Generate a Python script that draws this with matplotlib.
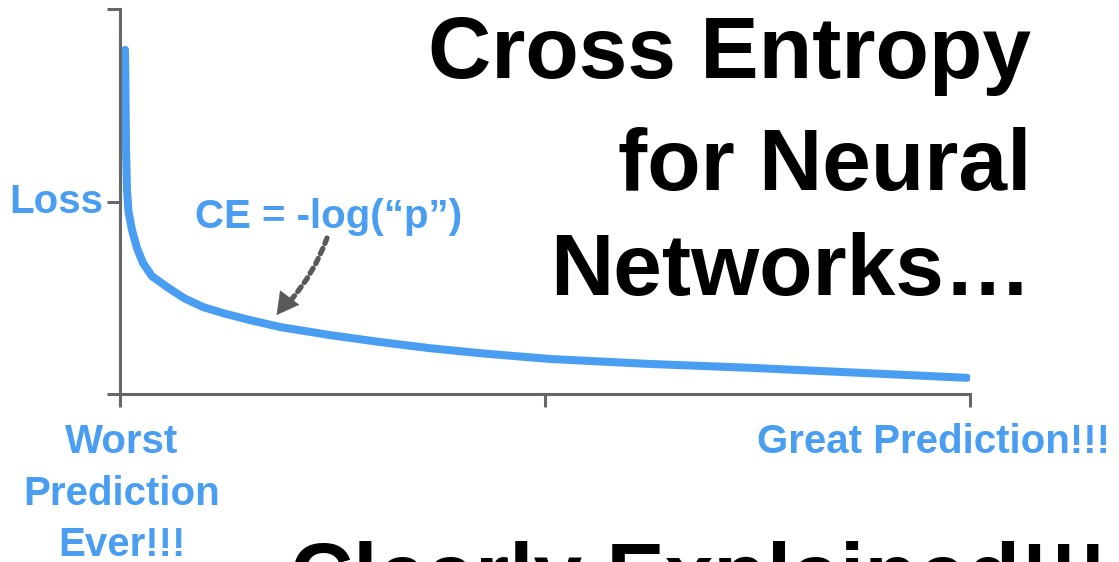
import matplotlib.pyplot as plt

# curve (x: 0 = worst prediction, 1 = great prediction)
loss_x = [0.0059, 0.0065, 0.0071, 0.0082, 0.0100, 0.0141, 0.0200, 0.0271,
          0.0376, 0.0553, 0.0753, 0.0976, 0.1212, 0.1529, 0.1882, 0.2471,
          0.3059, 0.3647, 0.4235, 0.5059, 0.6235, 0.7412, 0.8706, 0.9965]
loss_y = [0.894, 0.764, 0.634, 0.530, 0.473, 0.426, 0.379, 0.340,
          0.306, 0.278, 0.249, 0.226, 0.210, 0.192, 0.174, 0.153,
          0.135, 0.119, 0.106, 0.091, 0.078, 0.068, 0.055, 0.042]

x_ticks = [0, 0.5, 1]
y_ticks = [0, 0.5, 1]

title_lines = ['Cross Entropy', 'for Neural', 'Networks\u2026']
worst_lines = ['Worst', 'Prediction', 'Ever!!!']

blue = '#4A9EF2'
grey = '#666666'
arrow_grey = '#595959'
font = 'Liberation Sans'

W, H = 1119, 562
fig = plt.figure(figsize=(W / 100, H / 100), dpi=100)
ax = fig.add_axes([120 / W, 1 - 394 / H, 850 / W, 385 / H])

ax.plot(loss_x, loss_y, color=blue, lw=5.8, solid_capstyle='round',
        solid_joinstyle='round')
ax.set_xlim(0, 1)
ax.set_ylim(0, 1)

for s in ['top', 'right']:
    ax.spines[s].set_visible(False)
for s in ['left', 'bottom']:
    ax.spines[s].set_color(grey)
    ax.spines[s].set_linewidth(2.2)

ax.set_xticks(x_ticks)
ax.set_yticks(y_ticks)
ax.set_xticklabels([])
ax.set_yticklabels([])
ax.tick_params(axis='both', direction='out', length=9.5, width=2.2, color=grey)

def px(x, y):
    return x / W, 1 - y / H

# blue labels
fig.text(*px(103, 213), 'Loss', ha='right', va='baseline', color=blue,
         fontsize=29, fontweight='bold', family=font)
fig.text(*px(195, 228), 'CE = -log(\u201cp\u201d)', ha='left', va='baseline',
         color=blue, fontsize=29, fontweight='bold', family=font)
for line, base in zip(worst_lines, [453, 505, 556]):
    fig.text(*px(122, base), line, ha='center', va='baseline', color=blue,
             fontsize=29, fontweight='bold', family=font)
fig.text(*px(1110, 453), 'Great Prediction!!!', ha='right', va='baseline',
         color=blue, fontsize=29, fontweight='bold', family=font)

# dotted arrow to the curve: dotted shaft + solid head
tip = (loss_x[14] - 0.004, loss_y[14] + 0.031)
ax.annotate('', xy=tip, xycoords='data',
            xytext=(0.2435, 0.405), textcoords='axes fraction',
            arrowprops=dict(arrowstyle='-', color=arrow_grey, lw=3.8,
                            linestyle=(0, (1.1, 1.0)),
                            connectionstyle='arc3,rad=-0.12',
                            shrinkA=0, shrinkB=14))
ax.annotate('', xy=tip, xycoords='data',
            xytext=(9, 12), textcoords='offset points',
            arrowprops=dict(arrowstyle='-|>,head_length=1.0,head_width=0.55',
                            mutation_scale=15, color=arrow_grey, lw=0.5,
                            shrinkA=0, shrinkB=0))

# big black title
for line, base in zip(title_lines, [78, 190, 295]):
    fig.text(*px(1031, base), line, ha='right', va='baseline', color='black',
             fontsize=63, fontweight='bold', family=font)
fig.text(*px(290, 604), 'Clearly Explained!!!', ha='left', va='baseline',
         color='black', fontsize=63, fontweight='bold', family=font)

fig.savefig('out.png', dpi=100)
